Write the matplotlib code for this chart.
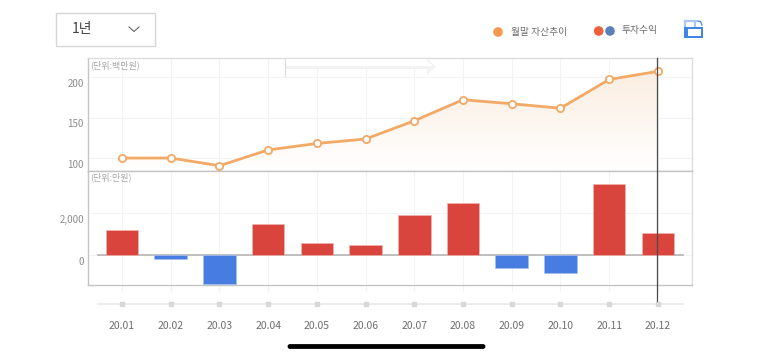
import numpy as np
import matplotlib
matplotlib.use("Agg")
from matplotlib import pyplot as plt
from matplotlib.patches import Rectangle, FancyBboxPatch, Circle, Polygon
from matplotlib.colors import LinearSegmentedColormap
from matplotlib.transforms import ScaledTranslation

months = ["20.01", "20.02", "20.03", "20.04", "20.05", "20.06",
          "20.07", "20.08", "20.09", "20.10", "20.11", "20.12"]
assets = [100, 100, 90.5, 110, 118, 123.5, 146, 172, 167, 161.5, 197, 207]
profit = [1190, -175, -1380, 1505, 600, 505, 1920, 2505, -620, -845, 3410, 1050]
asset_ticks = [100, 150, 200]
profit_ticks = [0, 2000]

W, H = 773, 357
plt.rcParams['font.family'] = ['Noto Sans CJK KR', 'DejaVu Sans']
fig = plt.figure(figsize=(W / 100, H / 100), dpi=100)


def px_axes(x0, y0, x1, y1):
    return fig.add_axes([x0 / W, 1 - y1 / H, (x1 - x0) / W, (y1 - y0) / H])


# overlay for the page furniture, in pixels
ui = fig.add_axes([0, 0, 1, 1], zorder=5)
ui.set_xlim(0, W)
ui.set_ylim(H, 0)
ui.axis("off")

x = np.arange(len(months))
xlim = (-0.698, 11.70)
GRID = "#f3f3f3"
FRAME = "#c4c4c4"
TXT = "#8c8c8c"
shift = ScaledTranslation(0, -1.5 / 100, fig.dpi_scale_trans)

# top chart
ax = px_axes(88, 58, 692, 171)
ax.set_xlim(xlim)
ax.set_ylim(84, 223.5)
ax.set_xticks(x)
ax.set_yticks(asset_ticks)
ax.set_xticklabels([])
ax.tick_params(length=0, labelsize=7, labelcolor=TXT, pad=3)
for t in ax.get_yticklabels():
    t.set_verticalalignment("top")
    t.set_transform(t.get_transform() + shift)
ax.grid(True, color=GRID, lw=0.8)
ax.set_axisbelow(True)
for s in ax.spines.values():
    s.set_color(FRAME)
    s.set_linewidth(1)
ax.spines["top"].set_color("#dddddd")
ax.spines["right"].set_color("#dddddd")

cmap = LinearSegmentedColormap.from_list("fade", ["#ffffff", "#fbeee1"])
grad = ax.imshow(np.linspace(1, 0, 100).reshape(-1, 1), cmap=cmap, aspect="auto",
                 extent=(xlim[0], xlim[1], 84, max(assets)), zorder=1)
ax.set_xlim(xlim)
ax.set_ylim(84, 223.5)
clip = Polygon(list(zip(x, assets)) + [(x[-1], 84), (x[0], 84)], closed=True,
               transform=ax.transData, fc="none", ec="none")
ax.add_patch(clip)
grad.set_clip_path(clip)
ax.plot(x, assets, color="#f3a966", lw=2, marker="o", ms=5.2, mfc="white",
        mec="#f3a966", mew=1.3, zorder=3, clip_on=False)
ax.text(0.004, 0.935, "(단위:백만원)", transform=ax.transAxes, fontsize=6.5,
        color="#a8a8a8", va="center")

# bottom chart
ax2 = px_axes(88, 171, 692, 285)
ax2.set_xlim(xlim)
ax2.set_ylim(-1414, 4014)
ax2.set_xticks(x)
ax2.set_xticklabels([])
ax2.set_yticks(profit_ticks)
ax2.set_yticklabels(["0", "2,000"])
ax2.tick_params(axis="y", length=0, labelsize=7, labelcolor=TXT, pad=3)
ax2.tick_params(axis="x", length=5, width=0.8, color=GRID)
for t in ax2.get_yticklabels():
    t.set_verticalalignment("top")
    t.set_transform(t.get_transform() + shift)
ax2.grid(True, color=GRID, lw=0.8)
ax2.set_axisbelow(True)
for s in ax2.spines.values():
    s.set_color(FRAME)
    s.set_linewidth(1)
ax2.spines["right"].set_color("#dddddd")
colors = ["#d9453d" if v > 0 else "#477de0" for v in profit]
edges = ["#efb4af" if v > 0 else "#a6c1f0" for v in profit]
ax2.bar(x, profit, width=0.667, color=colors, edgecolor=edges, linewidth=0.5, zorder=3)
ax2.axhline(0, xmin=10 / 604, xmax=595 / 604, color="#b5b5b5", lw=1.2, zorder=2)
ax2.text(0.004, 0.945, "(단위:만원)", transform=ax2.transAxes, fontsize=6.5,
         color="#a8a8a8", va="center")

# month strip below the charts
ax3 = px_axes(88, 296, 692, 312)
ax3.set_xlim(xlim)
ax3.set_ylim(-1, 1)
ax3.patch.set_alpha(0)
for s in ax3.spines.values():
    s.set_visible(False)
ax3.axhline(0, xmin=10 / 604, xmax=595 / 604, color="#ebebeb", lw=1.3)
ax3.scatter(x, [0] * len(x), marker="s", s=9, color="#d8d8d8", zorder=3)
ax3.set_yticks([])
ax3.set_xticks(x)
ax3.set_xticklabels(months)
ax3.tick_params(axis="x", length=0, labelsize=7.5, labelcolor="#6e6e6e", pad=6.2)

# cursor line at the last month
ui.plot([657.3, 657.3], [58, 301], color="#4a4a4a", lw=0.9)

# dropdown
ui.add_patch(Rectangle((55.5, 12.5), 99, 33, fc="white", ec="#d6d6d6", lw=1))
ui.text(72, 29.5, "1년", fontsize=10, color="#444444", va="center")
ui.plot([129, 134, 139], [27, 31.5, 27], color="#666666", lw=0.8)

# legend
ui.add_patch(Circle((498, 32), 4.8, fc="#f39a4c", ec="none"))
ui.text(511, 32, "월말 자산추이", fontsize=7, color="#6e6e6e", va="center")
ui.add_patch(Circle((598.7, 31), 4.8, fc="#ee6038", ec="none"))
ui.add_patch(Circle((610, 31), 4.8, fc="#5b80ba", ec="none"))
ui.text(621, 30.5, "투자수익", fontsize=7, color="#6e6e6e", va="center")

# rotate icon
ui.add_patch(Rectangle((684.5, 20.5), 10.5, 8, fc="white", ec="#a9c8f3", lw=1.6))
ui.add_patch(Rectangle((684, 27), 19, 11, fc="#3f86e8", ec="none"))
ui.add_patch(Rectangle((688, 29), 13, 7, fc="white", ec="none"))
ui.plot([697, 700.5, 702], [21, 21.5, 25], color="#3f86e8", lw=0.9)

# scroll hint arrow
ui.add_patch(Rectangle((285, 66), 142, 2.5, fc="#f2f2f2", ec="none"))
ui.add_patch(Rectangle((285, 59), 142, 7, fc="white", ec="none"))
ui.plot([284.5, 284.5], [58, 76], color="#dcdcdc", lw=0.8)
ui.add_patch(Polygon([(427, 59), (436, 66.5), (427, 75)], closed=True, fc="#f3f3f3", ec="none"))
ui.add_patch(Polygon([(427, 61), (433, 66), (427, 66)], closed=True, fc="white", ec="none"))

# home indicator
ui.add_patch(FancyBboxPatch((289, 345.5), 195, 2, boxstyle="round,pad=0,rounding_size=1",
                            fc="black", ec="black", lw=2))

fig.savefig("out.png", dpi=100)
